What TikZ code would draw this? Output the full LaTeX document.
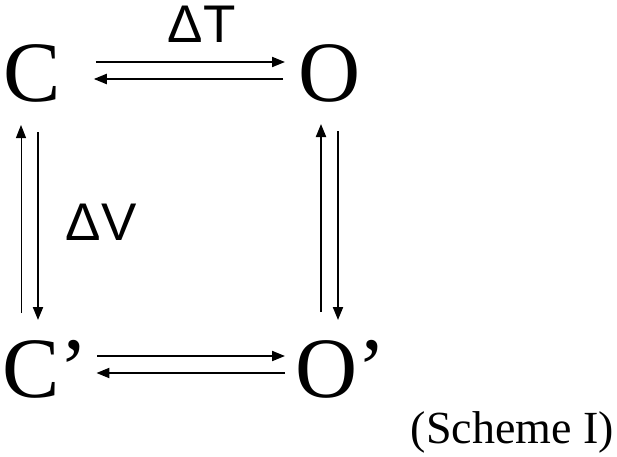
\documentclass[tikz,border=0pt]{standalone}
\usepackage{fontspec}
\setmainfont{Liberation Serif}
\newfontfamily\arial{Liberation Sans}
\usetikzlibrary{arrows.meta}
\begin{document}
\begin{tikzpicture}[x=1pt,y=1pt]
\tikzstyle{state} = [font=\fontsize{86}{90}\selectfont,inner sep=0,anchor=base west];
\tikzstyle{delta} = [font=\arial\fontsize{53}{58}\selectfont,inner sep=0,anchor=base];
\tikzstyle{arr} = [line width=2,-{Triangle[length=13,width=10]}];
\tikzstyle{thinarr} = [arr,line width=1];
\useasboundingbox (0,0) rectangle (617,456);
\node [state] (C) at (3,354) {C};
\node [state] (O) at (298,354) {O};
\node [state] (Cp) at (2,59) {C’};
\node [state] (Op) at (295,59) {O’};
\node [delta] (dT) at (201.5,413) {ΔT};
\node [delta] (dV) at (101,216) {ΔV};
\node [font=\fontsize{46}{50}\selectfont,inner sep=0,anchor=base east] (scheme) at (614,13) {(Scheme I)};

\draw [arr] ([shift={(35,40)}]C.base east) -- ([shift={(-13,40)}]O.base west);
\draw [arr] ([shift={(-15,23)}]O.base west) -- ([shift={(33,23)}]C.base east);
\draw [arr] ([shift={(9,41)}]Cp.base east) -- ([shift={(-10,41)}]Op.base west);
\draw [arr] ([shift={(-10,24)}]Op.base west) -- ([shift={(8,24)}]Cp.base east);
\draw [thinarr] ([shift={(19,84)}]Cp.base west) -- ([shift={(18,-23)}]C.base west);
\draw [arr] ([shift={(35,-30)}]C.base west) -- ([shift={(36,77)}]Cp.base west);
\draw [arr] ([shift={(26,85)}]Op.base west) -- ([shift={(23,-22)}]O.base west);
\draw [arr] ([shift={(40,-29)}]O.base west) -- ([shift={(43,77)}]Op.base west);
\end{tikzpicture}
\end{document}
